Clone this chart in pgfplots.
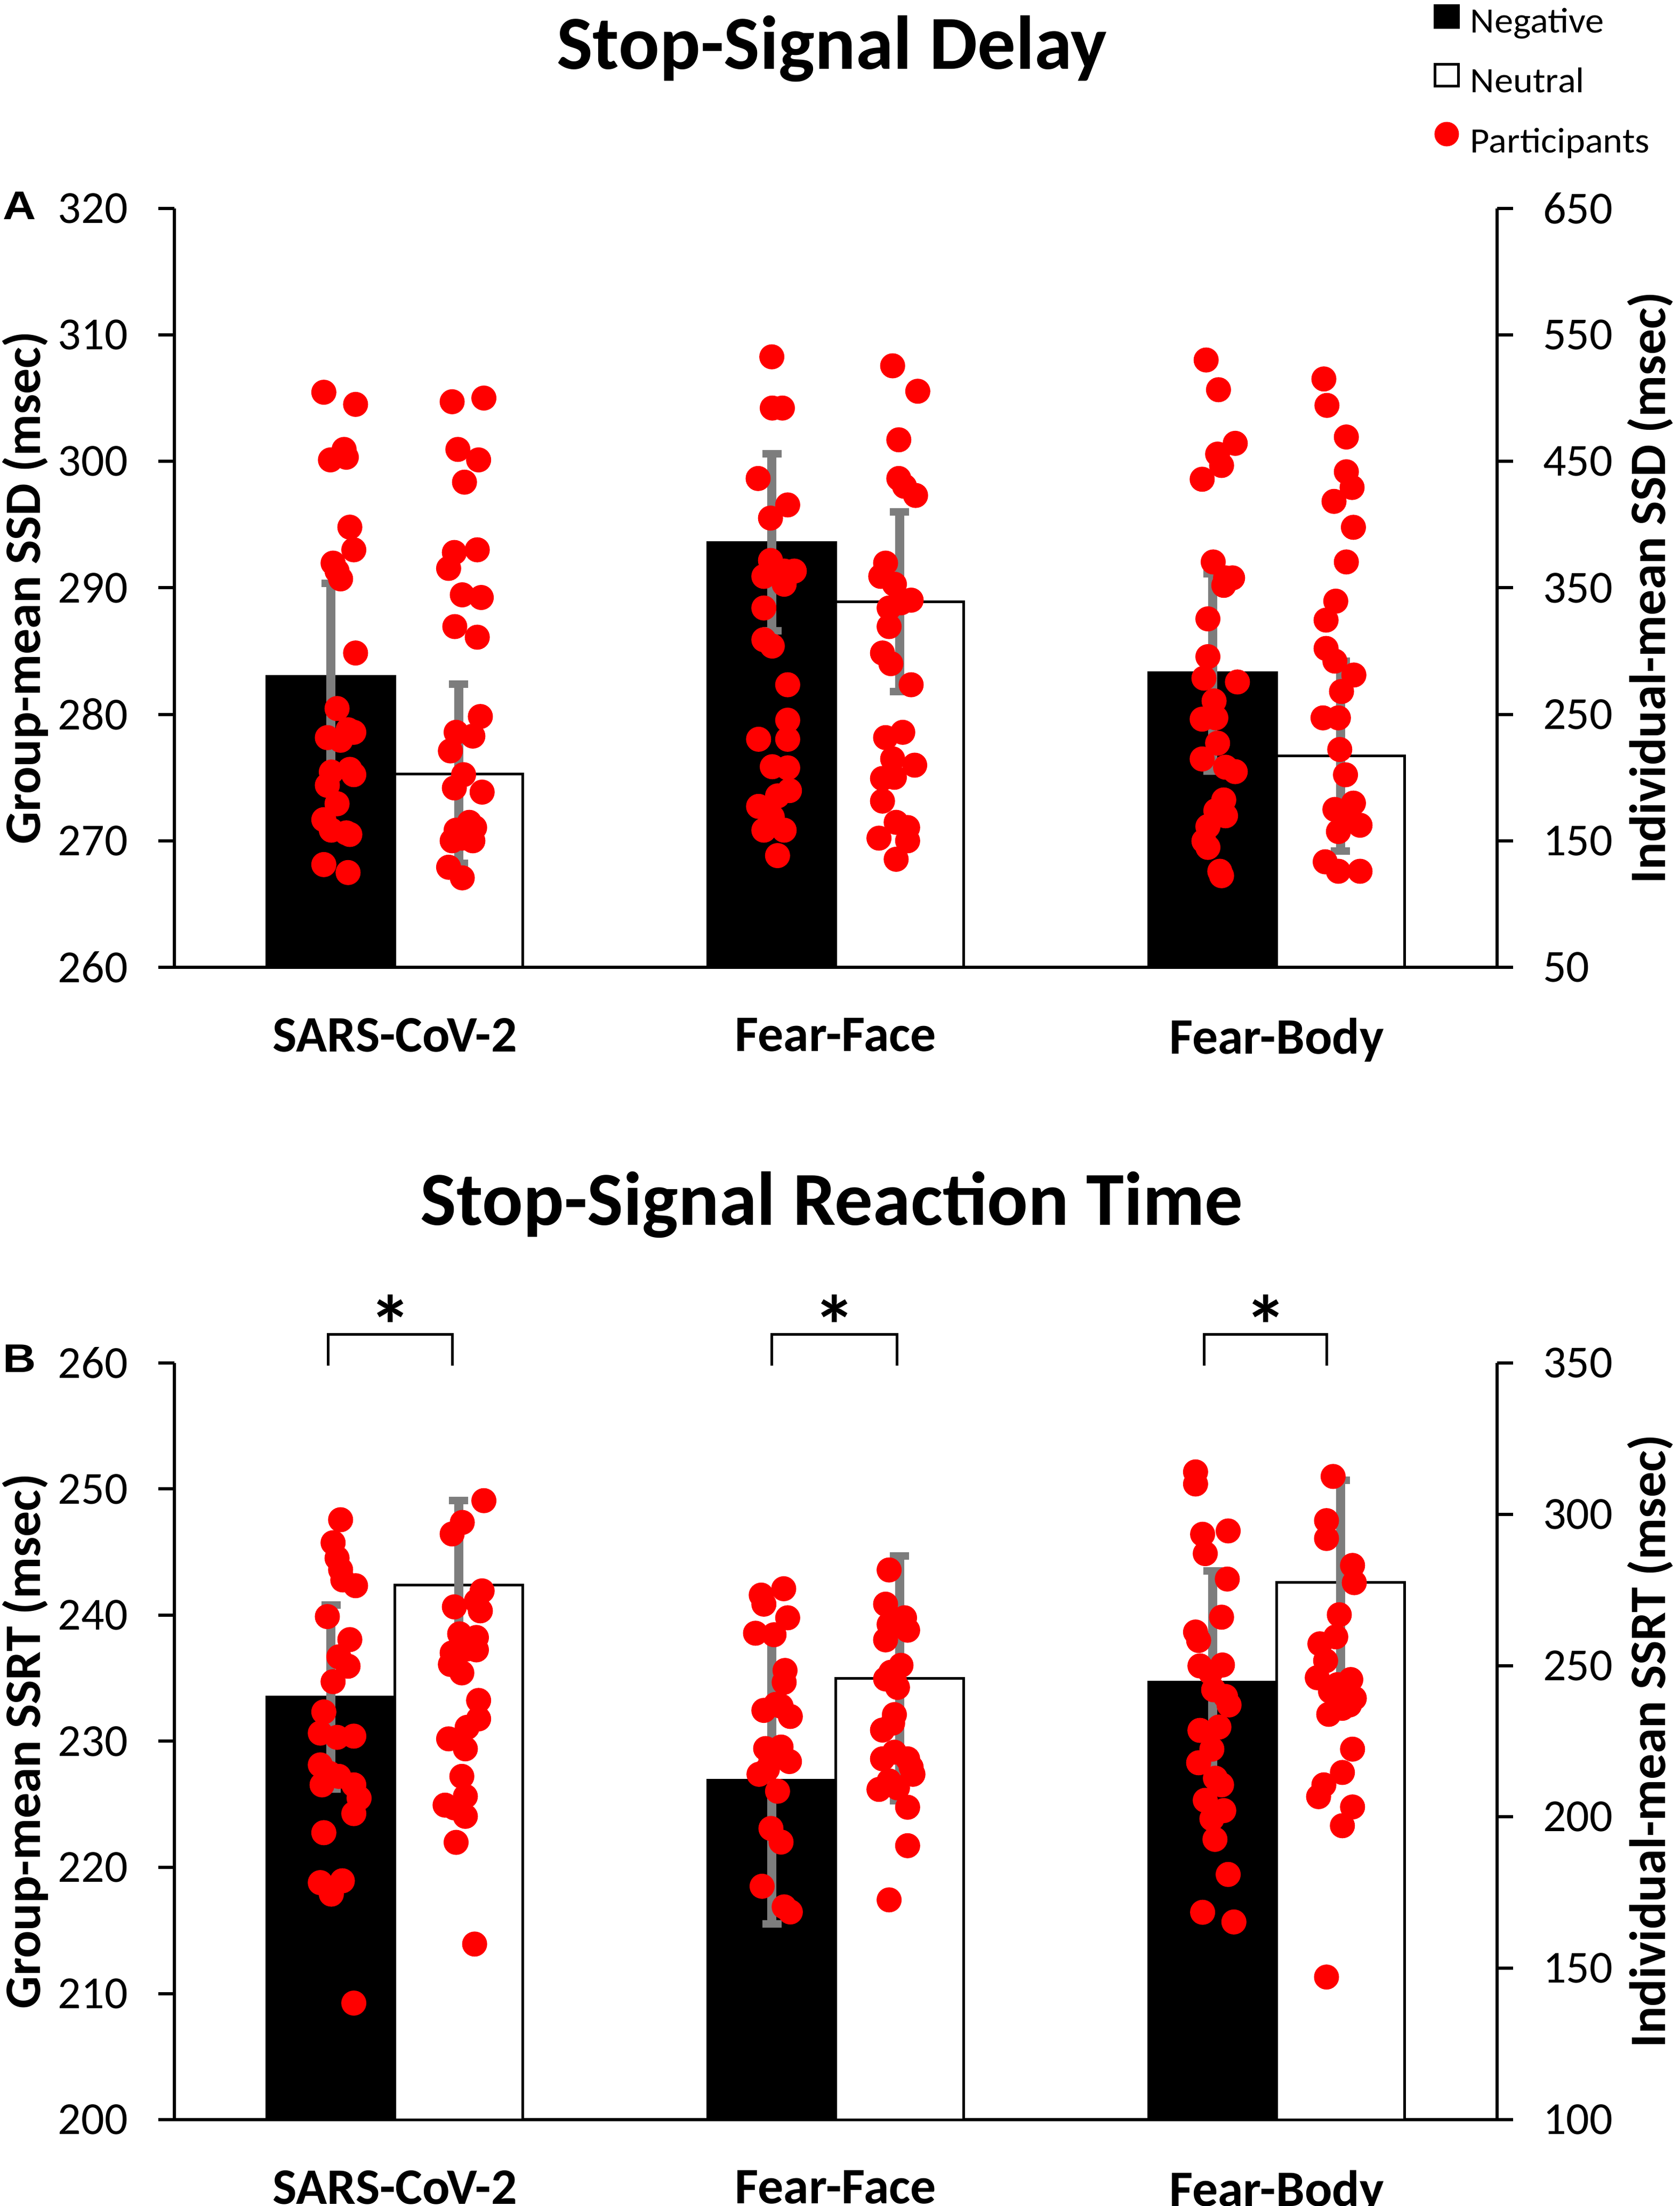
\documentclass[border=0pt]{standalone}
\usepackage{fontspec}
\setmainfont{Carlito}
\newfontfamily\legfont[FakeStretch=1.05]{Carlito}
\newfontfamily\abfont{Liberation Sans}
\usepackage{pgfplots}
\pgfplotsset{compat=1.18}
\definecolor{errgray}{RGB}{125,125,125}
\pgfplotsset{
  base/.style={scale only axis, width=248.1pt, xmin=-0.5, xmax=2.5,
    anchor=south west, axis line style={line width=0.6pt},
    tick style={line width=0.6pt, black}, major tick length=3pt, tick align=outside,
    /pgf/number format/assume math mode=true,
    ticklabel style={font=\fontsize{8.6}{10}\selectfont}},
  leftax/.style={base, axis x line*=bottom, axis y line*=left,
    xtick={0,1,2}, xticklabels={SARS-CoV-2,Fear-Face,Fear-Body},
    xticklabel style={font=\bfseries\fontsize{9.6}{11}\selectfont, yshift=-3.0pt},
    x tick style={draw=none},
    yticklabel style={xshift=-2.2pt},
    every axis y label/.style={at={(axis description cs:-0.1125,0.5)}, rotate=90, anchor=center,
      font=\bfseries\fontsize{9.6}{11}\selectfont}},
  rightax/.style={base, axis y line*=right, axis x line=none,
    yticklabel style={xshift=2.1pt},
    every axis y label/.style={at={(axis description cs:1.1157,0.5)}, rotate=90, anchor=center,
      font=\bfseries\fontsize{9.6}{11}\selectfont}},
  negbar/.style={ybar, bar width=0.29, bar shift=0pt, fill=black, draw=black, line width=0.5pt,
    error bars/.cd, y dir=both, y explicit, error mark=|,
    error bar style={line width=1.7pt, color=errgray},
    error mark options={line width=1.4pt, mark size=1.8pt, color=errgray}},
  neubar/.style={ybar, bar width=0.29, bar shift=0pt, fill=white, draw=black, line width=0.5pt,
    error bars/.cd, y dir=both, y explicit, error mark=|,
    error bar style={line width=1.7pt, color=errgray},
    error mark options={line width=1.4pt, mark size=1.8pt, color=errgray}},
  dots/.style={only marks, mark=*, mark size=2.15pt, color=red, mark options={fill=red, draw=red}},
}
\begin{document}
\begin{tikzpicture}[x=1pt,y=1pt]
% ---------------- Panel A ----------------
\begin{axis}[leftax, at={(32.7pt,232.3pt)}, height=142.3pt,
  ymin=260, ymax=320, ytick={260,270,...,320}, ylabel={Group-mean SSD (msec)}]
\addplot[negbar] coordinates {(-0.145,283.0) +- (0,7.35) (0.855,293.6) +- (0,7.0) (1.855,283.3) +- (0,7.8)};
\addplot[neubar] coordinates {(0.145,275.3) +- (0,7.1) (1.145,288.9) +- (0,7.1) (2.145,276.7) +- (0,7.5)};
\end{axis}
\begin{axis}[rightax, at={(32.7pt,232.3pt)}, height=142.3pt,
  ymin=50, ymax=650, ytick={50,150,...,650}, ylabel={Individual-mean SSD (msec)},
  legend cell align=left,
  legend style={at={(axis description cs:0.952,1.2783)}, anchor=north west, draw=none, fill=none,
    inner sep=0pt, outer sep=0pt, font=\legfont\fontsize{6.7}{7.5}\selectfont, row sep=1.1pt,
    /tikz/column sep=0pt}]
\addlegendimage{legend image code/.code={\draw[black,fill=black,line width=0.5pt] (0pt,-0.6pt) rectangle (4.4pt,3.5pt);}}
\addlegendentry{Negative}
\addlegendimage{legend image code/.code={\draw[black,fill=white,line width=0.5pt] (0pt,-0.3pt) rectangle (4.4pt,3.8pt);}}
\addlegendentry{Neutral}
% SARS-CoV-2 negative
\addplot[dots, legend image code/.code={\fill[red] (2.2pt,1.9pt) circle (2.1pt);}] coordinates {
(-0.161,504.7) (-0.089,495.1) (-0.146,451.2) (-0.115,459.5) (-0.110,453.3) (-0.102,398.0) (-0.093,380.1)
(-0.140,369.6) (-0.131,363.3) (-0.123,357.1) (-0.089,298.5) (-0.131,254.6) (-0.153,231.6) (-0.106,237.8)
(-0.093,235.8) (-0.123,229.5) (-0.102,206.5) (-0.093,202.3) (-0.144,204.4) (-0.153,193.9) (-0.131,179.3)
(-0.161,166.7) (-0.144,158.4) (-0.110,156.3) (-0.102,155.0) (-0.161,131.2) (-0.106,124.9)};
\addlegendentry{Participants}
% SARS-CoV-2 neutral
\addplot[dots, forget plot] coordinates {
(0.130,497.2) (0.202,500.1) (0.143,459.5) (0.190,451.2) (0.158,433.6) (0.135,378.0) (0.187,380.1)
(0.122,365.4) (0.153,344.5) (0.196,342.4) (0.136,319.4) (0.187,311.0) (0.194,248.3) (0.139,235.8)
(0.177,232.8) (0.126,221.1) (0.156,202.3) (0.135,191.8) (0.198,188.5) (0.169,164.6) (0.181,160.5)
(0.139,158.4) (0.152,152.1) (0.130,150.0) (0.177,150.0) (0.122,129.1) (0.153,120.7)};
% Fear-Face negative
\addplot[dots, forget plot] coordinates {
(0.855,532.7) (0.856,492.2) (0.879,492.2) (0.824,436.5) (0.891,415.6) (0.852,405.2) (0.852,371.7)
(0.883,363.3) (0.906,363.3) (0.837,359.1) (0.883,352.9) (0.837,334.1) (0.837,309.0) (0.856,304.0)
(0.891,273.4) (0.891,245.4) (0.825,230.3) (0.891,230.3) (0.856,208.6) (0.891,207.7) (0.895,189.7)
(0.868,185.5) (0.825,177.2) (0.856,168.8) (0.837,158.4) (0.883,158.4) (0.868,138.3)};
% Fear-Face neutral
\addplot[dots, forget plot] coordinates {
(1.129,525.6) (1.186,505.5) (1.143,467.1) (1.143,436.5) (1.181,423.1) (1.156,430.3) (1.113,369.6)
(1.102,359.1) (1.133,352.9) (1.171,340.3) (1.121,334.1) (1.148,338.2) (1.121,319.4) (1.106,298.5)
(1.125,290.1) (1.171,273.4) (1.152,235.8) (1.113,231.6) (1.129,214.8) (1.179,209.8) (1.106,199.3)
(1.133,200.2) (1.106,181.4) (1.137,164.6) (1.163,160.5) (1.098,152.1) (1.163,150.0) (1.137,135.4)};
% Fear-Body negative
\addplot[dots, forget plot] coordinates {
(1.840,530.2) (1.868,506.7) (1.906,464.3) (1.866,455.8) (1.875,446.8) (1.831,435.9) (1.856,370.5)
(1.884,357.9) (1.900,357.9) (1.880,352.0) (1.844,325.5) (1.844,295.6) (1.835,278.6) (1.911,275.6)
(1.858,260.6) (1.831,246.2) (1.862,247.2) (1.866,227.2) (1.831,214.7) (1.884,208.2) (1.906,204.7)
(1.880,182.3) (1.862,173.8) (1.884,169.8) (1.844,161.3) (1.835,149.8) (1.844,144.8) (1.871,125.9) (1.875,122.4)};
% Fear-Body neutral
\addplot[dots, forget plot] coordinates {
(2.107,515.2) (2.114,494.3) (2.158,469.3) (2.158,441.8) (2.171,429.4) (2.130,418.4) (2.174,397.9)
(2.158,370.5) (2.134,339.5) (2.112,324.5) (2.112,302.1) (2.132,292.1) (2.175,281.1) (2.147,268.1)
(2.105,247.2) (2.140,247.2) (2.143,222.2) (2.156,202.2) (2.174,179.8) (2.132,174.8) (2.163,167.3)
(2.189,162.3) (2.140,157.3) (2.110,133.4) (2.140,125.9) (2.189,125.9)};
\end{axis}
% ---------------- Panel B ----------------
\begin{axis}[leftax, at={(32.7pt,16.2pt)}, height=141.9pt,
  ymin=200, ymax=260, ytick={200,210,...,260}, ylabel={Group-mean SSRT (msec)}]
\addplot[negbar] coordinates {(-0.145,233.5) +- (0,7.3) (0.855,226.9) +- (0,11.4) (1.855,234.7) +- (0,8.8)};
\addplot[neubar] coordinates {(0.145,242.4) +- (0,6.7) (1.145,235.0) +- (0,9.7) (2.145,242.6) +- (0,8.1)};
\end{axis}
\begin{axis}[rightax, at={(32.7pt,16.2pt)}, height=141.9pt, clip=false,
  ymin=100, ymax=350, ytick={100,150,...,350}, ylabel={Individual-mean SSRT (msec)}]
\addplot[dots] coordinates {
(-0.123,298.2) (-0.140,290.6) (-0.131,285.5) (-0.123,281.7) (-0.118,278.3) (-0.089,276.4) (-0.153,266.2)
(-0.102,258.6) (-0.127,252.9) (-0.106,249.8) (-0.140,244.7) (-0.161,234.7) (-0.169,227.7) (-0.131,226.3)
(-0.093,226.7) (-0.169,217.2) (-0.148,214.4) (-0.127,213.4) (-0.165,210.6) (-0.093,210.6) (-0.081,206.2)
(-0.093,201.1) (-0.161,194.8) (-0.169,178.3) (-0.119,178.9) (-0.144,174.5) (-0.093,138.5)};
\addplot[dots] coordinates {
(0.202,304.5) (0.153,297.3) (0.130,293.5) (0.198,274.7) (0.185,271.3) (0.135,269.4) (0.194,268.1)
(0.147,260.5) (0.185,259.3) (0.130,254.2) (0.164,255.5) (0.185,255.2) (0.126,250.4) (0.152,247.6)
(0.190,238.5) (0.190,232.4) (0.164,229.6) (0.122,225.8) (0.160,222.5) (0.152,213.4) (0.160,206.8)
(0.114,203.9) (0.135,203.0) (0.160,200.2) (0.139,191.6) (0.181,158.0)};
\addplot[dots] coordinates {
(0.831,273.3) (0.882,275.4) (0.837,270.3) (0.891,265.8) (0.818,260.7) (0.860,260.2) (0.885,248.4)
(0.883,244.5) (0.837,235.2) (0.876,236.6) (0.897,233.2) (0.864,237.2) (0.841,222.6) (0.876,223.1)
(0.895,218.3) (0.853,219.2) (0.826,214.1) (0.845,215.8) (0.868,208.5) (0.853,196.2) (0.876,191.7)
(0.833,177.1) (0.883,170.3) (0.897,168.6)};
\addplot[dots] coordinates {
(1.121,281.6) (1.113,270.3) (1.156,265.8) (1.121,263.6) (1.163,261.7) (1.113,258.5) (1.148,250.1)
(1.125,247.8) (1.133,245.0) (1.113,245.6) (1.140,242.8) (1.133,233.8) (1.106,228.7) (1.129,231.0)
(1.106,219.2) (1.133,221.4) (1.163,219.2) (1.171,216.4) (1.175,214.1) (1.121,211.9) (1.098,209.1)
(1.140,209.6) (1.163,203.2) (1.163,190.5) (1.121,172.6)};
\addplot[dots] coordinates {
(1.816,314.0) (1.816,310.0) (1.832,293.4) (1.890,294.5) (1.838,287.0) (1.888,278.6) (1.875,266.0)
(1.816,261.1) (1.823,258.3) (1.826,249.9) (1.877,250.2) (1.850,247.7) (1.857,242.0) (1.884,239.8)
(1.892,237.0) (1.826,228.6) (1.869,229.7) (1.853,222.4) (1.823,217.9) (1.861,212.8) (1.875,210.6)
(1.838,205.5) (1.880,202.1) (1.853,199.4) (1.860,192.6) (1.890,181.0) (1.832,168.5) (1.903,165.3)};
\addplot[dots] coordinates {
(2.128,312.5) (2.113,297.9) (2.113,292.0) (2.172,283.1) (2.176,277.4) (2.142,266.8) (2.134,259.5)
(2.098,257.2) (2.111,251.6) (2.092,246.0) (2.168,245.4) (2.161,242.0) (2.122,241.5) (2.138,243.7)
(2.176,239.2) (2.165,237.0) (2.149,235.9) (2.118,233.9) (2.172,222.4) (2.149,214.7) (2.107,210.6)
(2.095,206.7) (2.172,203.3) (2.149,197.1) (2.113,147.1)};
% significance brackets
\draw[line width=0.5pt] (axis cs:-0.151,349.2) -- (axis cs:-0.151,359.5) -- (axis cs:0.131,359.5) -- (axis cs:0.131,349.2);
\draw[line width=0.5pt] (axis cs:0.855,349.2) -- (axis cs:0.855,359.5) -- (axis cs:1.139,359.5) -- (axis cs:1.139,349.2);
\draw[line width=0.5pt] (axis cs:1.835,349.2) -- (axis cs:1.835,359.5) -- (axis cs:2.114,359.5) -- (axis cs:2.114,349.2);
\node[inner sep=0pt, anchor=center] at (axis cs:-0.010,362.5) {\bfseries\fontsize{16}{16}\selectfont *};
\node[inner sep=0pt, anchor=center] at (axis cs:0.997,362.5) {\bfseries\fontsize{16}{16}\selectfont *};
\node[inner sep=0pt, anchor=center] at (axis cs:1.975,362.5) {\bfseries\fontsize{16}{16}\selectfont *};
\end{axis}
% titles and panel letters
\node[anchor=base] at (156.0,400.7) {\bfseries\fontsize{14.3}{16}\selectfont Stop-Signal Delay};
\node[anchor=base] at (156.0,183.9) {\bfseries\fontsize{14.3}{16}\selectfont Stop-Signal Reaction Time};
\node[anchor=base west, inner sep=0pt, xscale=1.15] at (0.3,372.5) {\abfont\bfseries\fontsize{7.5}{8}\selectfont A};
\node[anchor=base west, inner sep=0pt, xscale=1.15] at (0.3,156.3) {\abfont\bfseries\fontsize{7.5}{8}\selectfont B};
\pgfresetboundingbox
\useasboundingbox (0,0) rectangle (315,413.7);
\end{tikzpicture}
\end{document}
